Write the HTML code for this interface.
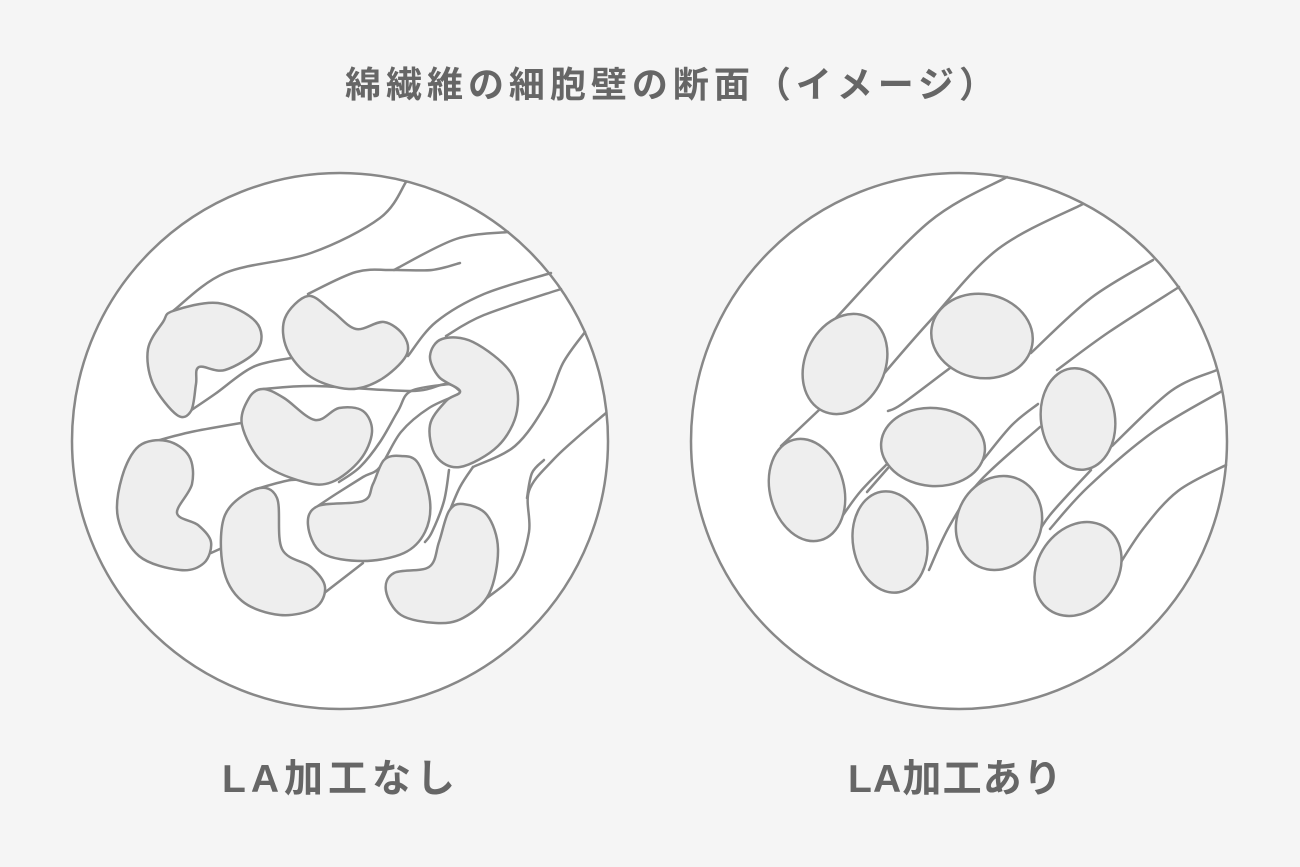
<!DOCTYPE html>
<html><head><meta charset="utf-8"><style>
html,body{margin:0;padding:0;background:#f5f5f5;}
svg{display:block;}
text{font-family:"Liberation Sans","Noto Sans CJK JP",sans-serif;font-weight:bold;fill:#666;}
</style></head><body>
<svg id="s" width="1300" height="867" viewBox="0 0 1300 867" xmlns="http://www.w3.org/2000/svg">
<rect width="1300" height="867" fill="#f5f5f5"/>
<text x="345" y="97" font-size="36" textLength="650" lengthAdjust="spacing">綿繊維の細胞壁の断面（イメージ）</text>
<text x="222" y="792" font-size="39" textLength="233" lengthAdjust="spacing">LA加工なし</text>
<text x="848" y="792" font-size="39" textLength="214" lengthAdjust="spacing">LA加工あり</text>
<circle cx="340" cy="441" r="268" fill="#fff" stroke="#888" stroke-width="2.5"/>
<circle cx="959" cy="441" r="268" fill="#fff" stroke="#888" stroke-width="2.5"/>
<g id="L" fill="none" stroke="#888" stroke-width="2.5" stroke-linecap="round" stroke-linejoin="round"></g>
<g fill="#eee" stroke="#888" stroke-width="2.5">
<ellipse cx="845" cy="364" rx="40" ry="52" transform="rotate(25 845 364)"/>
<ellipse cx="982" cy="336" rx="51" ry="42" transform="rotate(10 982 336)"/>
<ellipse cx="1078" cy="419" rx="37" ry="51" transform="rotate(-8 1078 419)"/>
<ellipse cx="933" cy="447" rx="52" ry="39" transform="rotate(5 933 447)"/>
<ellipse cx="807" cy="490" rx="37" ry="52" transform="rotate(-15 807 490)"/>
<ellipse cx="890" cy="542" rx="37" ry="51" transform="rotate(-10 890 542)"/>
<ellipse cx="999" cy="523" rx="42" ry="48" transform="rotate(25 999 523)"/>
<ellipse cx="1078" cy="569" rx="40" ry="50" transform="rotate(35 1078 569)"/>
</g>
<g id="B" fill="#eee" stroke="#888" stroke-width="2.5" stroke-linejoin="round"></g>
</svg>
<script>
function sm(p,closed){
 var n=p.length,d="M"+p[0][0]+","+p[0][1];
 var g=function(i){ if(closed) return p[(i+n)%n]; return p[Math.max(0,Math.min(n-1,i))];};
 var m=closed?n:n-1;
 for(var i=0;i<m;i++){
  var p0=g(i-1),p1=g(i),p2=g(i+1),p3=g(i+2);
  var c1=[p1[0]+(p2[0]-p0[0])/6,p1[1]+(p2[1]-p0[1])/6];
  var c2=[p2[0]-(p3[0]-p1[0])/6,p2[1]-(p3[1]-p1[1])/6];
  d+=" C"+c1[0].toFixed(1)+","+c1[1].toFixed(1)+" "+c2[0].toFixed(1)+","+c2[1].toFixed(1)+" "+p2[0]+","+p2[1];
 }
 return d+(closed?"Z":"");
}
var NS="http://www.w3.org/2000/svg";
function add(g,pts,closed){var e=document.createElementNS(NS,"path");e.setAttribute("d",sm(pts,closed));document.getElementById(g).appendChild(e);}
var lines=[
[[406,182],[380,218],[311,253],[225,273],[173,311]],
[[508,232],[456,239],[394,270]],
[[460,263],[432,270],[394,270],[356,272],[308,294]],
[[551,273],[484,294],[436,322],[408,356]],
[[561,289],[484,315],[446,336]],
[[291,358],[253,367],[215,394],[187,413]],
[[263,389],[315,386],[411,391],[446,384],[460,391]],
[[460,394],[429,408],[401,432],[380,467],[363,477],[336,494],[318,506]],
[[449,384],[411,391],[398,411],[380,442],[360,467],[339,482]],
[[156,441],[191,432],[241,423]],
[[256,489],[291,480],[311,482]],
[[211,553],[222,548]],
[[585,332],[563,363],[546,404],[515,446],[473,467]],
[[606,413],[580,435],[553,460],[529,491],[529,532],[515,573],[487,598]],
[[544,460],[532,473],[527,498]],
[[473,467],[460,487],[448,515]],
[[449,470],[444,501],[432,532],[425,542]],
[[363,563],[332,587],[318,598]],
[[1007,177],[929,222],[836,318]],
[[1083,204],[998,249],[929,322],[881,377]],
[[819,410],[781,446]],
[[1153,260],[1091,298],[1031,353]],
[[950,368],[902,404],[888,411]],
[[1179,287],[1109,332],[1057,370]],
[[1038,404],[1012,425],[983,460]],
[[886,465],[860,492],[841,518]],
[[888,468],[867,492]],
[[1040,427],[981,480],[950,525],[929,570]],
[[1217,370],[1171,391],[1112,446]],
[[1222,391],[1153,432],[1088,487],[1050,529]],
[[1091,470],[1050,515],[1033,542]],
[[1226,465],[1178,491],[1143,529],[1116,570]]
];
lines.forEach(function(l){add("L",l,false);});
var beans=[
[[173,311],[218,303],[256,322],[258,349],[225,370],[199,367],[196,384],[191,411],[177,415],[153,384],[148,349],[163,322]],
[[308,296],[332,311],[356,329],[384,322],[404,336],[406,356],[380,380],[349,389],[311,377],[287,349],[285,318]],
[[263,389],[284,398],[315,420],[339,408],[363,411],[372,432],[360,460],[332,482],[304,482],[263,463],[242,425],[249,398]],
[[442,339],[473,342],[511,373],[517,411],[498,446],[460,467],[436,456],[430,425],[446,401],[460,391],[439,377],[430,356]],
[[139,446],[167,441],[189,456],[192,484],[177,513],[198,525],[211,542],[204,563],[180,570],[139,556],[118,518],[122,477]],
[[256,489],[277,498],[282,549],[311,567],[325,587],[315,608],[280,615],[242,601],[223,567],[225,515]],
[[401,456],[418,463],[430,501],[425,532],[404,553],[363,561],[322,553],[308,525],[318,506],[363,501],[373,484],[384,460]],
[[463,504],[487,515],[498,549],[489,594],[463,618],[436,623],[401,615],[386,591],[394,573],[429,567],[439,542],[449,511]]
];
beans.forEach(function(b){add("B",b,true);});
</script>
</body></html>
